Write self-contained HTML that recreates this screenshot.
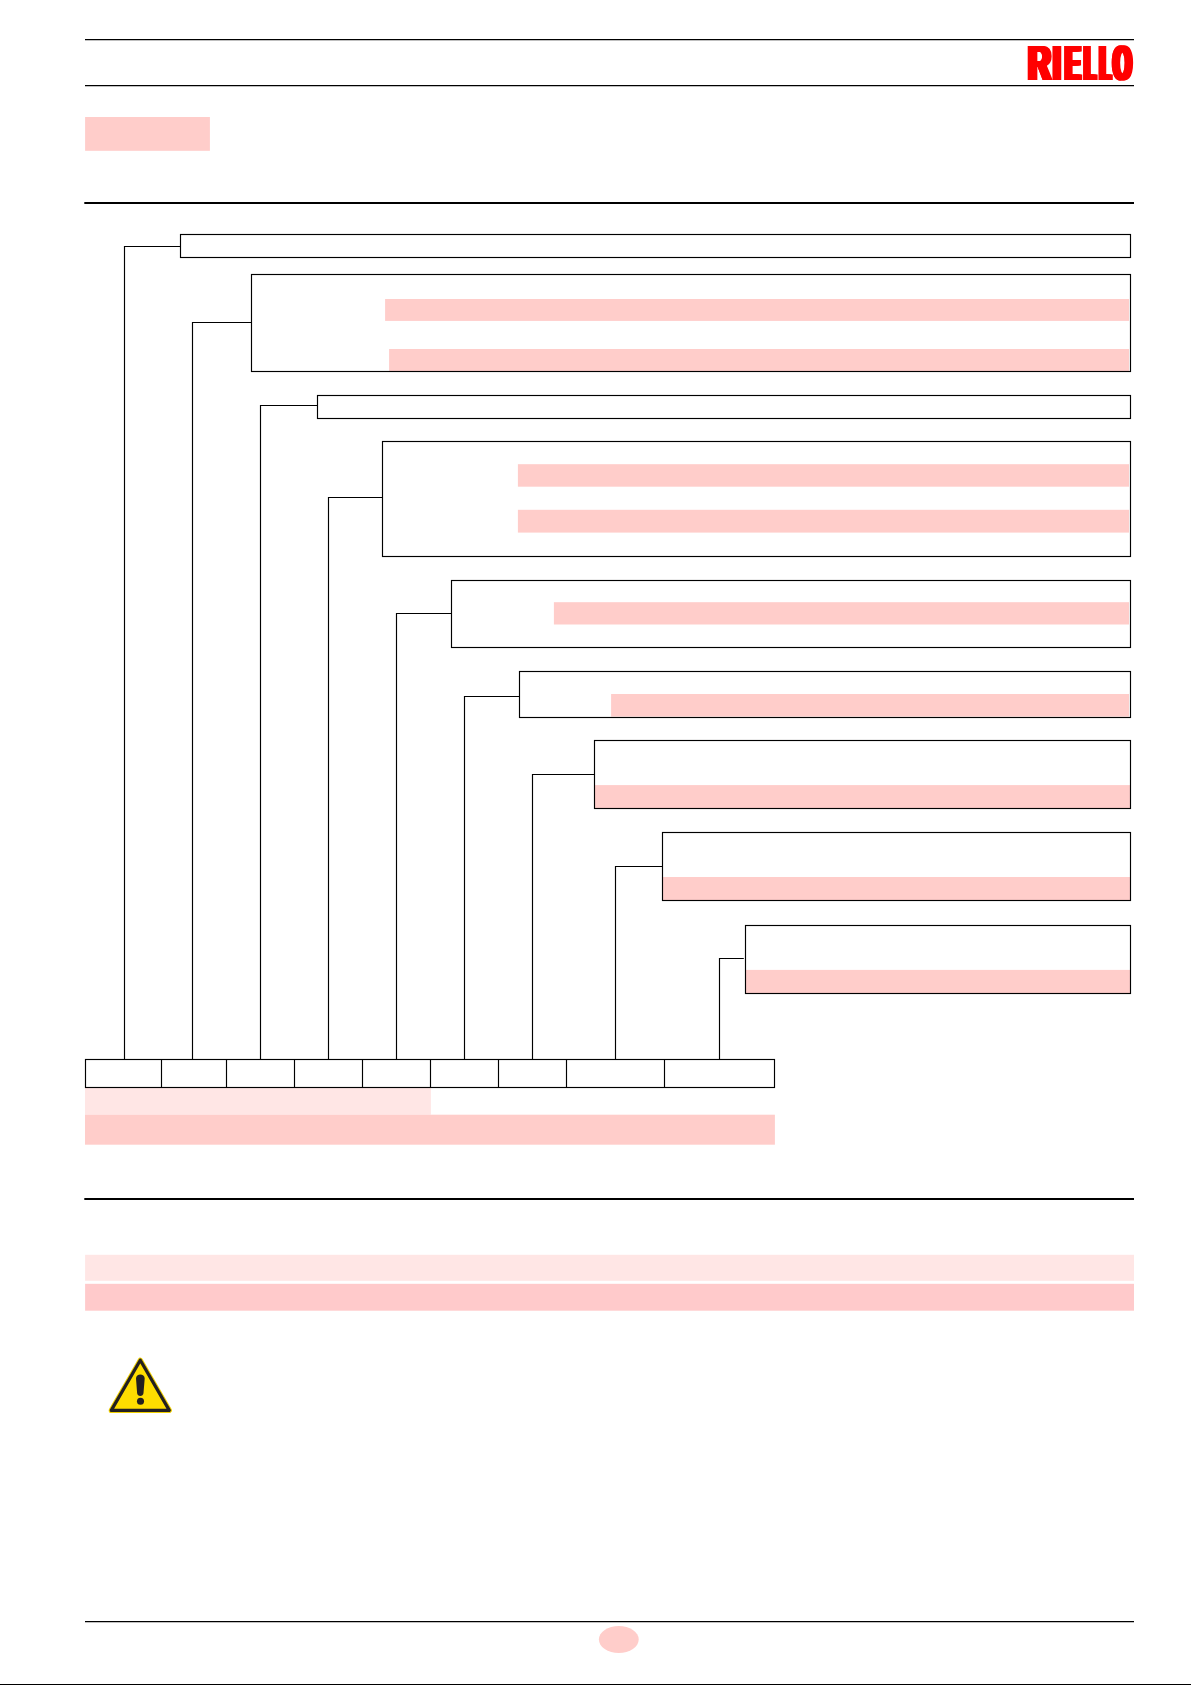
<!DOCTYPE html>
<html lang="en"><head><meta charset="utf-8"><title>RIELLO</title>
<style>html,body{margin:0;padding:0;background:#fff}body{width:1191px;height:1685px;overflow:hidden;position:relative}svg{position:absolute;left:0;top:0;display:block}text{font-family:"Liberation Sans",sans-serif;font-weight:bold}</style></head><body>
<svg width="1191" height="1685" viewBox="0 0 1191 1685">
<rect width="1191" height="1685" fill="#fff"/>
<rect x="85.1" y="117.0" width="124.8" height="33.8" fill="#FFCDCA"/>
<rect x="385.1" y="299.0" width="743.9" height="21.9" fill="#FFCDCA"/>
<rect x="389.1" y="349.0" width="739.9" height="22.0" fill="#FFCDCA"/>
<rect x="517.9" y="464.2" width="611.1" height="22.5" fill="#FFCDCA"/>
<rect x="517.9" y="509.8" width="611.1" height="22.8" fill="#FFCDCA"/>
<rect x="553.9" y="602.2" width="575.1" height="22.3" fill="#FFCDCA"/>
<rect x="611.1" y="694.0" width="517.9" height="22.6" fill="#FFCDCA"/>
<rect x="595.0" y="785.1" width="535.0" height="22.9" fill="#FFCDCA"/>
<rect x="663.0" y="877.0" width="467.0" height="23.0" fill="#FFCDCA"/>
<rect x="746.0" y="969.9" width="384.0" height="23.1" fill="#FFCDCA"/>
<rect x="85.0" y="1087.5" width="345.9" height="27.2" fill="#FFE6E5"/>
<rect x="85.0" y="1114.7" width="689.9" height="30.0" fill="#FFCDCA"/>
<rect x="85.1" y="1254.8" width="1048.9" height="26.0" fill="#FFE6E5"/>
<rect x="85.1" y="1283.8" width="1048.9" height="26.9" fill="#FFCACB"/>
<ellipse cx="618.8" cy="1639.5" rx="19.9" ry="13.4" fill="#FFCDCA"/>
<g stroke="#000" fill="none" stroke-width="1.25">
<path d="M85 39.5H1134M85 85.5H1134M85 1621.5H1134"/>
</g>
<g stroke="#000" fill="none" stroke-width="2.1">
<path d="M84.3 203H1134M84.3 1199H1134"/>
</g>
<path d="M0 1684.5H1191" stroke="#000" stroke-width="1"/>
<g stroke="#000" fill="none" stroke-width="1.15" stroke-linejoin="miter">
<rect x="180.5" y="234.5" width="950.0" height="23.0"/>
<path d="M180.5 246.5H124.5V1059.5"/>
<rect x="251.5" y="274.5" width="879.0" height="97.0"/>
<path d="M251.5 322.5H192.5V1059.5"/>
<rect x="317.5" y="395.5" width="813.0" height="23.0"/>
<path d="M317.5 405.5H260.5V1059.5"/>
<rect x="382.5" y="441.5" width="748.0" height="115.0"/>
<path d="M382.5 497.5H328.5V1059.5"/>
<rect x="451.5" y="580.5" width="679.0" height="67.0"/>
<path d="M451.5 613.5H396.5V1059.5"/>
<rect x="519.5" y="671.5" width="611.0" height="46.0"/>
<path d="M519.5 696.5H464.5V1059.5"/>
<rect x="594.5" y="740.5" width="536.0" height="68.0"/>
<path d="M594.5 774.5H532.5V1059.5"/>
<rect x="662.5" y="832.5" width="468.0" height="68.0"/>
<path d="M662.5 866.5H615.5V1059.5"/>
<rect x="745.5" y="925.5" width="385.0" height="68.0"/>
<path d="M743.8 958.5H719.5V1059.5"/>
<rect x="85.5" y="1059.5" width="689.0" height="28.0"/>
<path d="M161.5 1059.5V1087.5M226.5 1059.5V1087.5M294.5 1059.5V1087.5M362.5 1059.5V1087.5M430.5 1059.5V1087.5M498.5 1059.5V1087.5M566.5 1059.5V1087.5M664.5 1059.5V1087.5"/>
</g>
<defs><filter id="sm" filterUnits="userSpaceOnUse" x="1015" y="35" width="130" height="55" color-interpolation-filters="sRGB"><feOffset in="SourceGraphic" dx="-2.5" result="a"/><feOffset in="SourceGraphic" dx="-1.67" result="b"/><feOffset in="SourceGraphic" dx="-0.83" result="c"/><feOffset in="SourceGraphic" dx="0.83" result="d"/><feOffset in="SourceGraphic" dx="1.67" result="e"/><feOffset in="SourceGraphic" dx="2.5" result="f"/><feMerge><feMergeNode in="a"/><feMergeNode in="b"/><feMergeNode in="c"/><feMergeNode in="SourceGraphic"/><feMergeNode in="d"/><feMergeNode in="e"/><feMergeNode in="f"/></feMerge></filter></defs>
<g id="logo" filter="url(#sm)"><text y="80" fill="#FF0000" font-size="49.4" text-rendering="geometricPrecision"><tspan x="1027.7" textLength="22.62" lengthAdjust="spacingAndGlyphs">R</tspan><tspan x="1053.03" textLength="6.95" lengthAdjust="spacingAndGlyphs">I</tspan><tspan x="1064.76" textLength="15.34" lengthAdjust="spacingAndGlyphs">E</tspan><tspan x="1083.97" textLength="11.19" lengthAdjust="spacingAndGlyphs">L</tspan><tspan x="1099.41" textLength="10.83" lengthAdjust="spacingAndGlyphs">L</tspan><tspan x="1112.73" textLength="18.37" lengthAdjust="spacingAndGlyphs">O</tspan></text></g>
<g id="warn">
<path d="M140.3 1360.2L169.3 1410.4H111.3Z" fill="#FFDD00" stroke="#EFCF00" stroke-width="5.2" stroke-linejoin="round"/>
<path d="M140.3 1360.2L169.3 1410.4H111.3Z" fill="#FFDD00" stroke="#231F20" stroke-width="3.2" stroke-linejoin="round"/>
<path d="M136 1378.6C136 1373.1 144.7 1373.1 144.7 1378.6L143.5 1393C143.3 1397 137.3 1397 137.1 1393Z" fill="#231F20"/>
<circle cx="140.5" cy="1401.2" r="3.55" fill="#231F20"/>
</g>
</svg></body></html>
